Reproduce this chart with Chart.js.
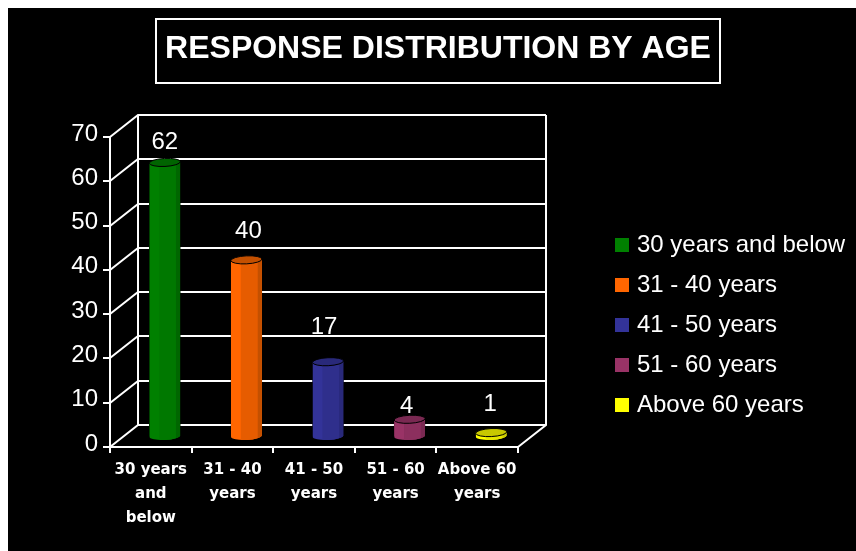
<!DOCTYPE html>
<html>
<head>
<meta charset="utf-8">
<title>Response distribution by age</title>
<script src="https://cdn.jsdelivr.net/npm/chart.js@4"></script>
<style>
    html, body { margin: 0; padding: 0; background: #fff; overflow: hidden; }
    #chart { display: block; margin: 8px 0 0 8px; background: #000; }
</style>
</head>
<body>
<canvas id="chart" width="848" height="543"></canvas>
<script>
// Chart values
const chartTitle = "RESPONSE DISTRIBUTION BY AGE";
const categories = [["30 years", "and", "below"], ["31 - 40", "years"], ["41 - 50", "years"], ["51 - 60", "years"], ["Above 60", "years"]];
const legendNames = ["30 years and below", "31 - 40 years", "41 - 50 years", "51 - 60 years", "Above 60 years"];
const responses = [62, 40, 17, 4, 1];

// Colours for the bars and their darker faces
const barColors = ["#008000", "#ff6600", "#333399", "#993366", "#ffff00"];
const midColors = ["#007800", "#e65c00", "#2f2f8c", "#8c2f5e", "#e6e600"];
const sideColors = ["#006600", "#c45000", "#29297a", "#7a2952", "#cccc00"];
const capColors = ["#006400", "#c45000", "#29297a", "#7a2952", "#c8c800"];

// The value labels do not sit at a fixed distance from the bars
const labelLift = [13, 22, 28, 6, 22];
const labelShift = [0, 2, -4, -3, -1];

// Depth of the 3D box and of the bars inside it
const wallDepth = { x: 28, y: -22 };
const barDepth = { x: 14, y: -10 };
const capRadius = 4;
const titleBox = { x: 148, y: 11, w: 564, h: 64 };
const legendSpot = { left: 595, top: 209, width: 260 };

const FONT = "'Liberation Sans', Arial, sans-serif";

// Moves the title and legend to where they belong once the layout is known
const placeBlocks = {
    id: "placeBlocks",
    afterLayout(chart) {
        const legend = chart.legend;
        legend.left = legendSpot.left;
        legend.right = legendSpot.left + legendSpot.width;
        legend.width = legendSpot.width;
        legend.top = legendSpot.top;
        legend.bottom = legendSpot.top + legend.height;
        chart.titleBlock.left = titleBox.x;
        chart.titleBlock.right = titleBox.x + titleBox.w;
    },
    afterDraw(chart) {
        const ctx = chart.ctx;
        ctx.save();
        ctx.strokeStyle = "#fff";
        ctx.lineWidth = 2;
        ctx.strokeRect(titleBox.x, titleBox.y, titleBox.w, titleBox.h);
        ctx.restore();
    }
};

// Back walls, floor and the grid lines running around them
const box3d = {
    id: "box3d",
    beforeDatasetsDraw(chart) {
        const { ctx, chartArea: area, scales: { y } } = chart;
        const backLeft = area.left + wallDepth.x;
        const backRight = area.right + wallDepth.x;
        ctx.save();
        ctx.strokeStyle = "#fff";
        ctx.lineWidth = 2;
        ctx.beginPath();
        y.ticks.forEach((tick) => {
            const py = Math.round(y.getPixelForValue(tick.value));
            ctx.moveTo(area.left, py);
            ctx.lineTo(backLeft, py + wallDepth.y);
            ctx.lineTo(backRight, py + wallDepth.y);
        });
        ctx.moveTo(backLeft, area.top + wallDepth.y);
        ctx.lineTo(backLeft, area.bottom + wallDepth.y);
        ctx.moveTo(backRight, area.top + wallDepth.y);
        ctx.lineTo(backRight, area.bottom + wallDepth.y);
        ctx.lineTo(area.right, area.bottom);
        ctx.stroke();
        ctx.restore();

        // bars stand in the middle of the box
        ctx.save();
        ctx.translate(barDepth.x, barDepth.y);
    },
    afterDatasetsDraw(chart) {
        const ctx = chart.ctx;
        const bars = chart.getDatasetMeta(0).data;
        bars.forEach((bar, i) => {
            const { x, y, base, width } = bar.getProps(["x", "y", "base", "width"], true);
            const left = x - width / 2;
            const tilt = -0.05;

            // body with its rounded bottom, shaded in vertical bands
            ctx.save();
            ctx.beginPath();
            ctx.rect(left, y, width, base - y);
            ctx.ellipse(x, base, width / 2, capRadius, tilt, 0, Math.PI * 2);
            ctx.clip();
            ctx.fillStyle = barColors[i];
            ctx.fillRect(left, y - 5, width, base - y + 15);
            ctx.fillStyle = midColors[i];
            ctx.fillRect(left + width * 0.32, y - 5, width * 0.54, base - y + 15);
            ctx.fillStyle = sideColors[i];
            ctx.fillRect(left + width * 0.86, y - 5, width * 0.14, base - y + 15);
            ctx.restore();

            // top of the cylinder
            ctx.beginPath();
            ctx.ellipse(x, y, width / 2, capRadius, tilt, 0, Math.PI * 2);
            ctx.fillStyle = capColors[i];
            ctx.fill();
            ctx.strokeStyle = "#000";
            ctx.lineWidth = 1;
            ctx.stroke();
        });
        ctx.restore();

        // value labels above the bars
        ctx.save();
        ctx.fillStyle = "#fff";
        ctx.font = "24px " + FONT;
        ctx.textAlign = "center";
        ctx.textBaseline = "alphabetic";
        bars.forEach((bar, i) => {
            ctx.fillText(responses[i], bar.x + barDepth.x + labelShift[i], bar.y + barDepth.y - labelLift[i]);
        });
        ctx.restore();
    }
};

new Chart(document.getElementById("chart"), {
    type: "bar",
    data: {
        labels: categories,
        datasets: [
            {
                label: "Responses",
                data: responses,
                backgroundColor: barColors,
                borderColor: "#000",
                borderWidth: 1,
                barThickness: 31,
            },
        ],
    },
    options: {
        responsive: false,
        animation: false,
        layout: { padding: { right: 168 } },
        plugins: {
            title: {
                display: true,
                text: chartTitle,
                color: "#fff",
                font: { family: FONT, size: 32, weight: "bold", lineHeight: 1.25 },
                padding: { top: 21, bottom: 68 },
            },
            legend: {
                display: true,
                position: "right",
                align: "start",
                labels: {
                    color: "#fff",
                    font: { family: FONT, size: 24 },
                    // small box with a thick outline keeps the text close to the swatch
                    boxWidth: 6,
                    boxHeight: 6,
                    padding: 16,
                    generateLabels: () => legendNames.map((name, i) => ({
                        text: name,
                        fillStyle: barColors[i],
                        strokeStyle: barColors[i],
                        lineWidth: 8,
                        fontColor: "#fff",
                    })),
                },
            },
            tooltip: { enabled: false },
        },
        scales: {
            x: {
                grid: { drawOnChartArea: false, color: "#fff", lineWidth: 2, tickLength: 6 },
                border: { color: "#fff", width: 2 },
                ticks: {
                    color: "#fff",
                    maxRotation: 0,
                    autoSkip: false,
                    padding: 5,
                    font: { family: "'DejaVu Sans', sans-serif", size: 15, weight: "bold", lineHeight: 1.6 },
                },
                afterFit(scale) { scale.height = 104; },
            },
            y: {
                min: 0,
                max: 70,
                grid: { drawOnChartArea: false, color: "#fff", lineWidth: 2, tickLength: 7 },
                border: { color: "#fff", width: 2 },
                ticks: {
                    stepSize: 10,
                    color: "#fff",
                    padding: 5,
                    font: { family: FONT, size: 24, lineHeight: 0.25 },
                    // an empty second line lifts each number a little above its tick
                    callback: (value) => [String(value), ""],
                },
                afterFit(scale) { scale.width = 102; },
            },
        },
    },
    plugins: [placeBlocks, box3d],
});
</script>
</body>
</html>
